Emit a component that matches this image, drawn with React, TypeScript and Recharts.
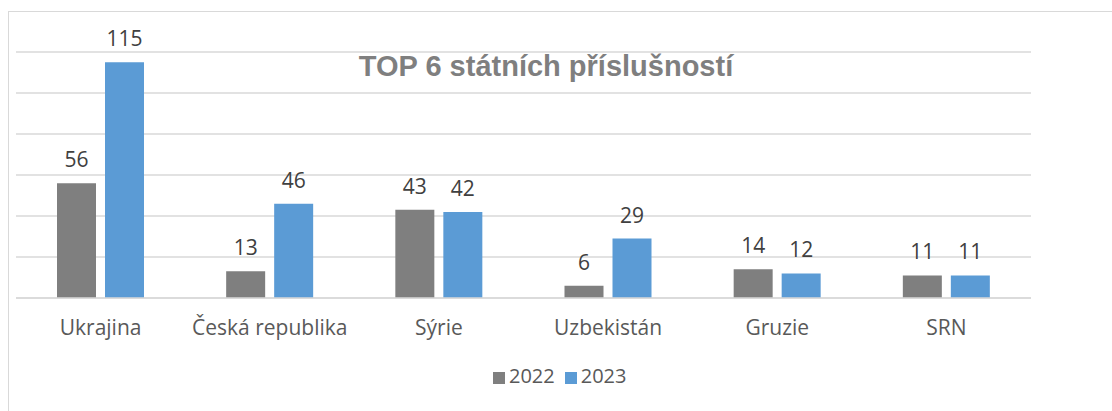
import React from "react";
import { BarChart, Bar, XAxis, YAxis, CartesianGrid, Legend, LabelList } from "recharts";

const categories = ["Ukrajina", "Česká republika", "Sýrie", "Uzbekistán", "Gruzie", "SRN"];
const values2022 = [56, 13, 43, 6, 14, 11];
const values2023 = [115, 46, 42, 29, 12, 11];
const yTicks = [0, 20, 40, 60, 80, 100, 120];

const data = categories.map((name, i) => ({ name, y2022: values2022[i], y2023: values2023[i] }));

const FONT = "'Open Sans', 'Liberation Sans', sans-serif";

export default function App() {
  return (
    <div style={{ position: "absolute", left: 0, top: 0, width: 1112, height: 411, overflow: "hidden", background: "#fff", fontFamily: FONT }}>
      <div style={{ position: "absolute", left: 8, top: 11, width: 1200, height: 500, border: "1px solid #d9d9d9", boxSizing: "border-box" }} />
      <BarChart
        width={1112}
        height={411}
        data={data}
        margin={{ top: 52, right: 81, left: 16, bottom: 46 }}
        barSize={39}
        barGap={9}
      >
        <CartesianGrid vertical={false} stroke="#d9d9d9" strokeWidth={1.5} />
        <YAxis hide domain={[0, 120]} ticks={yTicks} />
        <XAxis
          dataKey="name"
          height={40}
          tickLine={false}
          tickSize={0}
          tickMargin={22}
          axisLine={{ stroke: "#d9d9d9", strokeWidth: 1.5 }}
          tick={{ fill: "#595959", fontSize: 21, fontFamily: FONT }}
          interval={0}
        />
        <Legend
          verticalAlign="bottom"
          align="left"
          iconType="square"
          iconSize={12}
          wrapperStyle={{ left: 493, top: 362, width: 180, fontSize: 20, fontFamily: FONT }}
          formatter={(v: string) => <span style={{ color: "#595959" }}>{v}</span>}
        />
        <Bar dataKey="y2022" name="2022" fill="#7f7f7f" isAnimationActive={false}>
          <LabelList dataKey="y2022" position="top" offset={16} fill="#404040" fontSize={21} fontFamily={FONT} />
        </Bar>
        <Bar dataKey="y2023" name="2023" fill="#5b9bd5" isAnimationActive={false}>
          <LabelList dataKey="y2023" position="top" offset={16} fill="#404040" fontSize={21} fontFamily={FONT} />
        </Bar>
      </BarChart>
      <div
        style={{
          position: "absolute",
          left: 296,
          top: 49,
          width: 500,
          textAlign: "center",
          fontFamily: "'Liberation Sans', Arial, sans-serif",
          fontWeight: "bold",
          fontSize: 29,
          color: "#7f7f7f",
          lineHeight: "34px",
        }}
      >
        TOP 6 státních příslušností
      </div>
    </div>
  );
}
